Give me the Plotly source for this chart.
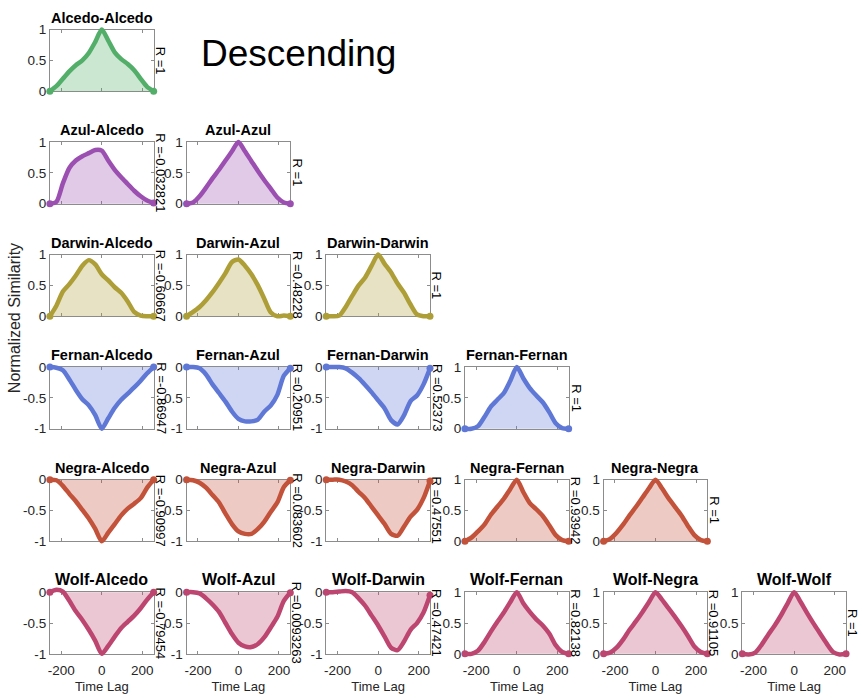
import plotly.graph_objects as go

# ---------------- data ----------------
lags = [-256, -224, -192, -160, -128, -96, -64, -32, 0, 32, 64, 96, 128, 160, 192, 224, 256]
stations = ["Alcedo", "Azul", "Darwin", "Fernan", "Negra", "Wolf"]
line_colors = ["#52AE68", "#9B4FB0", "#AD9E38", "#5F78D6", "#C2523A", "#BC4670"]
fill_colors = ["rgba(82,174,104,0.30)", "rgba(155,79,176,0.30)", "rgba(173,158,56,0.30)",
               "rgba(95,120,214,0.30)", "rgba(194,82,58,0.30)", "rgba(188,70,112,0.30)"]

alcedo_alcedo = [0, 0.08, 0.2, 0.32, 0.42, 0.5, 0.62, 0.8, 1.0, 0.82, 0.63, 0.52, 0.44, 0.34, 0.2, 0.07, 0]

azul_alcedo = [0, 0.03, 0.33, 0.58, 0.7, 0.77, 0.82, 0.87, 0.86, 0.7, 0.55, 0.43, 0.32, 0.21, 0.12, 0.05, 0.01]
azul_azul = [0, 0.02, 0.12, 0.26, 0.41, 0.55, 0.7, 0.85, 1.0, 0.85, 0.69, 0.53, 0.38, 0.24, 0.1, 0.02, 0]

darwin_alcedo = [0, 0.17, 0.4, 0.52, 0.66, 0.82, 0.91, 0.84, 0.68, 0.58, 0.47, 0.38, 0.24, 0.07, 0.01, 0.0, 0.0]
darwin_azul = [0, 0.07, 0.15, 0.26, 0.39, 0.54, 0.7, 0.88, 0.92, 0.82, 0.68, 0.5, 0.28, 0.06, 0.0, 0.01, 0.0]
darwin_darwin = [0, 0, 0.01, 0.15, 0.33, 0.5, 0.63, 0.82, 1.0, 0.85, 0.71, 0.53, 0.38, 0.19, 0.03, 0, 0]

fernan_alcedo = [0, -0.01, -0.05, -0.2, -0.37, -0.52, -0.62, -0.78, -1.0, -0.83, -0.66, -0.53, -0.43, -0.33, -0.22, -0.1, 0.0]
fernan_azul = [0, 0, -0.02, -0.12, -0.28, -0.42, -0.56, -0.72, -0.84, -0.88, -0.88, -0.85, -0.72, -0.62, -0.45, -0.14, -0.02]
fernan_darwin = [0, 0, 0, -0.02, -0.09, -0.18, -0.29, -0.41, -0.54, -0.67, -0.86, -0.93, -0.78, -0.55, -0.46, -0.28, -0.02]
fernan_fernan = [0, 0, 0.04, 0.19, 0.36, 0.47, 0.58, 0.78, 1.0, 0.82, 0.66, 0.54, 0.43, 0.27, 0.09, 0.01, 0]

negra_alcedo = [0, -0.01, -0.1, -0.23, -0.35, -0.49, -0.63, -0.8, -1.0, -0.86, -0.72, -0.58, -0.47, -0.39, -0.3, -0.13, 0]
negra_azul = [0, -0.01, -0.05, -0.13, -0.25, -0.37, -0.55, -0.72, -0.84, -0.88, -0.88, -0.8, -0.68, -0.52, -0.37, -0.12, -0.01]
negra_darwin = [0, 0, 0, -0.03, -0.09, -0.2, -0.3, -0.44, -0.58, -0.72, -0.88, -0.91, -0.76, -0.6, -0.49, -0.3, -0.02]
negra_fernan = [0, 0.06, 0.16, 0.27, 0.43, 0.56, 0.69, 0.85, 1.0, 0.8, 0.62, 0.52, 0.41, 0.26, 0.1, 0.02, 0]
negra_negra = [0, 0.04, 0.14, 0.27, 0.42, 0.56, 0.71, 0.86, 1.0, 0.86, 0.7, 0.56, 0.42, 0.25, 0.1, 0.02, 0]

wolf_alcedo = [0, 0.04, 0.01, -0.14, -0.31, -0.45, -0.61, -0.79, -1.0, -0.87, -0.72, -0.58, -0.48, -0.38, -0.26, -0.12, 0.0]
wolf_azul = [0, 0, -0.02, -0.1, -0.2, -0.32, -0.5, -0.68, -0.82, -0.88, -0.89, -0.84, -0.73, -0.57, -0.4, -0.14, -0.01]
wolf_darwin = [0, 0, 0.01, 0.02, 0.0, -0.1, -0.22, -0.38, -0.54, -0.72, -0.9, -0.94, -0.8, -0.61, -0.5, -0.33, -0.05]
wolf_fernan = [0, 0.0, 0.05, 0.19, 0.36, 0.52, 0.67, 0.84, 1.0, 0.82, 0.68, 0.56, 0.46, 0.33, 0.14, 0.03, 0.0]
wolf_negra = [0, 0.02, 0.1, 0.23, 0.39, 0.53, 0.68, 0.84, 1.0, 0.88, 0.74, 0.6, 0.45, 0.29, 0.12, 0.03, 0.0]
wolf_wolf = [0, -0.01, 0.02, 0.15, 0.31, 0.46, 0.63, 0.82, 1.0, 0.84, 0.66, 0.49, 0.33, 0.17, 0.03, -0.01, 0.0]

rows = [
    [alcedo_alcedo],
    [azul_alcedo, azul_azul],
    [darwin_alcedo, darwin_azul, darwin_darwin],
    [fernan_alcedo, fernan_azul, fernan_darwin, fernan_fernan],
    [negra_alcedo, negra_azul, negra_darwin, negra_fernan, negra_negra],
    [wolf_alcedo, wolf_azul, wolf_darwin, wolf_fernan, wolf_negra, wolf_wolf],
]
r_labels = [
    ["R =1"],
    ["R =-0.032821", "R =1"],
    ["R =-0.60667", "R =0.48228", "R =1"],
    ["R =-0.86947", "R =0.20951", "R =0.52373", "R =1"],
    ["R =-0.90997", "R =0.083602", "R =0.47551", "R =0.93942", "R =1"],
    ["R =-0.79454", "R =0.0093263", "R =0.47421", "R =0.82138", "R =0.91105", "R =1"],
]
pos_ticks = [0, 0.5, 1]
pos_ticktext = ["0", "0.5", "1"]
neg_ticks = [-1, -0.5, 0]
neg_ticktext = ["-1", "-0.5", "0"]
x_ticks = [-200, 0, 200]
x_ticktext = ["-200", "0", "200"]
x_lim = [-256, 256]

# ---------------- layout geometry ----------------
W, H = 862, 700
col_left = [48, 185, 325, 464, 603, 742]
row_top = [23, 138, 253, 368, 483, 598]
AW, AH = 104, 63
PAD = 7
FONT = "Liberation Sans, Arial, Helvetica, sans-serif"
TICKC = "#262626"
LINEC = "#8c8c8c"

fig = go.Figure()
layout = {}
annotations = []

cells = []
for i, row in enumerate(rows):
    for j, vals in enumerate(row):
        cells.append((i, j, vals))
n = len(cells)

for k, (i, j, vals) in enumerate(cells):
    d = k + 1          # display axes
    t = k + 1 + n      # data axes
    neg = min(vals) < -0.3
    ylim = [-1, 0] if neg else [0, 1]
    left = col_left[j]
    top = row_top[i]
    x0, x1 = left / W, (left + AW) / W
    y1, y0 = 1 - top / H, 1 - (top + AH) / H
    bottom_row = (i == len(rows) - 1)

    # display axes (box, ticks, labels)
    layout[f"xaxis{d}"] = dict(
        domain=[x0, x1], anchor=f"y{d}", range=x_lim, showgrid=False, zeroline=False,
        showline=True, linecolor=LINEC, linewidth=1, mirror="ticks",
        ticks="inside", ticklen=3, tickcolor=LINEC, tickvals=x_ticks, ticktext=x_ticktext,
        showticklabels=bottom_row, tickfont=dict(family=FONT, size=13.5, color=TICKC),
        ticklabelstandoff=4, fixedrange=True,
        title=dict(text="Time Lag" if bottom_row else "", font=dict(family=FONT, size=13, color=TICKC), standoff=4),
    )
    layout[f"yaxis{d}"] = dict(
        domain=[y0, y1], anchor=f"x{d}", range=ylim, showgrid=False, zeroline=False,
        showline=True, linecolor=LINEC, linewidth=1, mirror="ticks",
        ticks="inside", ticklen=3, tickcolor=LINEC,
        tickvals=neg_ticks if neg else pos_ticks, ticktext=neg_ticktext if neg else pos_ticktext,
        tickfont=dict(family=FONT, size=13.5, color=TICKC), fixedrange=True,
    )
    fig.add_trace(go.Scatter(x=[], y=[], xaxis=f"x{d}", yaxis=f"y{d}", showlegend=False, hoverinfo="skip"))

    # padded data axes with identical scale, so thick lines are not clipped at the box
    xs = (x_lim[1] - x_lim[0]) / AW
    ys = (ylim[1] - ylim[0]) / AH
    layout[f"xaxis{t}"] = dict(
        domain=[(left - PAD) / W, (left + AW + PAD) / W], anchor=f"y{t}",
        range=[x_lim[0] - PAD * xs, x_lim[1] + PAD * xs], visible=False, fixedrange=True,
    )
    layout[f"yaxis{t}"] = dict(
        domain=[1 - (top + AH + PAD) / H, 1 - (top - PAD) / H], anchor=f"x{t}",
        range=[ylim[0] - PAD * ys, ylim[1] + PAD * ys], visible=False, fixedrange=True,
    )
    fig.add_trace(go.Scatter(
        x=lags, y=vals, xaxis=f"x{t}", yaxis=f"y{t}", mode="lines",
        line=dict(color=line_colors[i], width=4.5, shape="spline", smoothing=0.7),
        fill="tozeroy", fillcolor=fill_colors[i], showlegend=False, hoverinfo="skip",
    ))
    fig.add_trace(go.Scatter(
        x=[lags[0], lags[-1]], y=[vals[0], vals[-1]], xaxis=f"x{t}", yaxis=f"y{t}",
        mode="markers", marker=dict(color=line_colors[i], size=7), cliponaxis=False,
        showlegend=False, hoverinfo="skip",
    ))

    # title
    annotations.append(dict(
        text=f"<b>{stations[i]}-{stations[j]}</b>", xref="paper", yref="paper",
        x=(left + AW / 2) / W, y=y1 + 2 / H, xanchor="center", yanchor="bottom", showarrow=False,
        font=dict(family=FONT, size=16 if bottom_row else 14.5, color="black"),
    ))
    # R label
    annotations.append(dict(
        text=r_labels[i][j], xref="paper", yref="paper",
        x=(left + AW + 7) / W, y=(y0 + y1) / 2, xanchor="center", yanchor="middle",
        textangle=90, showarrow=False, font=dict(family=FONT, size=13, color="black"),
    ))

annotations.append(dict(
    text="Descending", xref="paper", yref="paper", x=297 / W, y=1 - 48 / H,
    xanchor="center", yanchor="middle", showarrow=False,
    font=dict(family=FONT, size=37, color="black"),
))
annotations.append(dict(
    text="Normalized Similarity", xref="paper", yref="paper", x=12 / W, y=1 - 318 / H,
    xanchor="center", yanchor="middle", textangle=-90, showarrow=False,
    font=dict(family=FONT, size=16, color=TICKC),
))

fig.update_layout(
    width=W, height=H, autosize=False,
    margin=dict(l=0, r=0, t=0, b=0),
    paper_bgcolor="white", plot_bgcolor="rgba(0,0,0,0)",
    annotations=annotations, showlegend=False,
    **layout,
)

fig.write_html("out.html")
